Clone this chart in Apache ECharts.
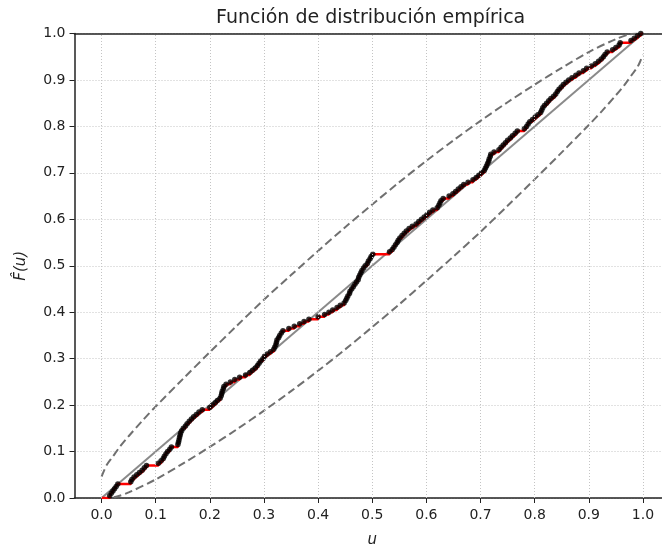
<!DOCTYPE html>
<html>
<head>
<meta charset="utf-8">
<script src="https://cdn.jsdelivr.net/npm/echarts@6/dist/echarts.min.js"></script>
<style>
  html, body { margin: 0; padding: 0; background: #fff; }
  #chart { width: 662px; height: 550px; }
</style>
</head>
<body>
<div id="chart"></div>
<script>
// sorted sample (u values where the ecdf jumps)
var sampleU = [
  0.015, 0.018, 0.021, 0.024, 0.027, 0.030, 0.054, 0.056, 0.060, 0.065,
  0.070, 0.075, 0.079, 0.083, 0.105, 0.110, 0.114, 0.116, 0.119, 0.122,
  0.126, 0.129, 0.141, 0.142, 0.143, 0.144, 0.145, 0.146, 0.148, 0.151,
  0.155, 0.158, 0.162, 0.166, 0.170, 0.175, 0.180, 0.186, 0.200, 0.205,
  0.210, 0.214, 0.219, 0.221, 0.222, 0.223, 0.225, 0.226, 0.230, 0.238,
  0.246, 0.255, 0.266, 0.274, 0.279, 0.284, 0.288, 0.291, 0.294, 0.298,
  0.301, 0.306, 0.312, 0.318, 0.320, 0.322, 0.323, 0.324, 0.327, 0.329,
  0.332, 0.335, 0.346, 0.356, 0.366, 0.374, 0.383, 0.400, 0.412, 0.420,
  0.427, 0.435, 0.441, 0.448, 0.451, 0.453, 0.455, 0.458, 0.459, 0.462,
  0.465, 0.468, 0.471, 0.474, 0.475, 0.477, 0.479, 0.481, 0.484, 0.487,
  0.491, 0.493, 0.496, 0.498, 0.501, 0.532, 0.537, 0.540, 0.543, 0.546,
  0.548, 0.551, 0.555, 0.559, 0.563, 0.568, 0.574, 0.581, 0.586, 0.591,
  0.596, 0.601, 0.606, 0.612, 0.620, 0.623, 0.625, 0.627, 0.631, 0.642,
  0.649, 0.654, 0.659, 0.664, 0.669, 0.677, 0.686, 0.692, 0.697, 0.702,
  0.707, 0.709, 0.711, 0.713, 0.715, 0.716, 0.718, 0.719, 0.725, 0.734,
  0.738, 0.742, 0.746, 0.750, 0.755, 0.759, 0.764, 0.768, 0.781, 0.785,
  0.788, 0.791, 0.796, 0.801, 0.806, 0.811, 0.813, 0.815, 0.818, 0.822,
  0.826, 0.830, 0.835, 0.839, 0.842, 0.845, 0.849, 0.853, 0.858, 0.863,
  0.869, 0.876, 0.882, 0.890, 0.896, 0.905, 0.912, 0.918, 0.923, 0.927,
  0.930, 0.934, 0.944, 0.950, 0.956, 0.958, 0.978, 0.984, 0.990, 0.996
];

// dashed band curves [u, F]
var upperBand = [
  [0.000, 0.046], [0.005, 0.060], [0.010, 0.072], [0.020, 0.088], [0.035, 0.112],
  [0.050, 0.133], [0.075, 0.166], [0.100, 0.197], [0.150, 0.256], [0.200, 0.314],
  [0.250, 0.371], [0.300, 0.427], [0.350, 0.480], [0.400, 0.532], [0.450, 0.583],
  [0.500, 0.632], [0.550, 0.680], [0.600, 0.726], [0.650, 0.770], [0.700, 0.812],
  [0.750, 0.852], [0.800, 0.890], [0.850, 0.926], [0.900, 0.960], [0.950, 0.988],
  [0.975, 0.998], [1.000, 1.000]
];
var lowerBand = [
  [0.000, 0.000], [0.025, 0.002], [0.050, 0.012], [0.100, 0.040], [0.150, 0.074],
  [0.200, 0.110], [0.250, 0.148], [0.300, 0.188], [0.350, 0.230], [0.400, 0.274],
  [0.450, 0.320], [0.500, 0.368], [0.550, 0.417], [0.600, 0.468], [0.650, 0.520],
  [0.700, 0.573], [0.750, 0.629], [0.800, 0.686], [0.850, 0.744], [0.900, 0.803],
  [0.925, 0.834], [0.950, 0.867], [0.965, 0.888], [0.980, 0.912], [0.990, 0.928],
  [0.995, 0.940], [1.000, 0.954]
];

var diagonal = [[0, 0], [1, 1]];
var xTicks = [0, 0.1, 0.2, 0.3, 0.4, 0.5, 0.6, 0.7, 0.8, 0.9, 1.0];

var n = sampleU.length;
var ecdfPoints = sampleU.map(function (u, i) { return [u, (i + 1) / n]; });
var stepData = [[0, 0]].concat(ecdfPoints).concat([[1, 1]]);

var font = 'DejaVu Sans';
var axisColor = '#222';
var gridColor = '#c4c4c4';
var bandStyle = { color: '#707070', width: 2, type: [8, 4] };

var chart = echarts.init(document.getElementById('chart'));
chart.setOption({
  animation: false,
  backgroundColor: '#fff',
  title: {
    text: 'Función de distribución empírica',
    left: 216,
    top: 9,
    padding: 0,
    textStyle: { fontFamily: font, fontSize: 19, fontWeight: 'normal', color: '#222' }
  },
  grid: { left: 74.5, top: 33.5, right: -8, bottom: 52, outerBoundsMode: 'none' },
  xAxis: [{
    type: 'value',
    min: -0.05,
    max: 1.05,
    name: 'u',
    nameLocation: 'middle',
    nameGap: 35,
    nameTextStyle: { fontFamily: font, fontSize: 15, fontStyle: 'italic', color: '#222' },
    axisLine: { onZero: false, lineStyle: { color: axisColor, width: 1.5 } },
    axisTick: { show: true, length: 5, customValues: xTicks, lineStyle: { color: axisColor } },
    axisLabel: {
      customValues: xTicks,
      margin: 10,
      fontFamily: font, fontSize: 14, color: '#222',
      formatter: function (v) { return v.toFixed(1); }
    },
    splitLine: { show: false }
  }, {
    type: 'value',
    position: 'top',
    min: -0.05,
    max: 1.05,
    axisLine: { show: true, onZero: false, lineStyle: { color: axisColor, width: 1.5 } },
    axisTick: { show: false },
    axisLabel: { show: false },
    splitLine: { show: false }
  }],
  yAxis: {
    type: 'value',
    min: 0,
    max: 1,
    interval: 0.1,
    name: 'F\u0302(u)',
    nameLocation: 'middle',
    nameGap: 46,
    nameRotate: 90,
    nameTextStyle: { fontFamily: font, fontSize: 15, fontStyle: 'italic', color: '#222' },
    axisLine: { show: true, onZero: false, lineStyle: { color: axisColor, width: 1.5 } },
    axisTick: { show: true, length: 5, lineStyle: { color: axisColor } },
    axisLabel: {
      margin: 9,
      fontFamily: font, fontSize: 14, color: '#222',
      formatter: function (v) { return v.toFixed(1); }
    },
    splitLine: { show: true, lineStyle: { color: gridColor, type: [1, 2], width: 1 } }
  },
  series: [{
    name: 'diagonal',
    type: 'line',
    data: diagonal,
    showSymbol: false,
    lineStyle: { color: '#8a8a8a', width: 2 },
    z: 1,
    markLine: {
      silent: true,
      symbol: ['none', 'none'],
      label: { show: false },
      lineStyle: { color: gridColor, type: [1, 2], width: 1 },
      data: xTicks.map(function (v) { return { xAxis: v }; })
    }
  }, {
    name: 'upper',
    type: 'line',
    data: upperBand,
    showSymbol: false,
    smooth: 0.3,
    lineStyle: bandStyle,
    z: 2
  }, {
    name: 'lower',
    type: 'line',
    data: lowerBand,
    showSymbol: false,
    smooth: 0.3,
    lineStyle: bandStyle,
    z: 2
  }, {
    name: 'ecdf',
    type: 'line',
    step: 'end',
    data: stepData,
    showSymbol: false,
    lineStyle: { color: '#ff0000', width: 2.5 },
    z: 3
  }, {
    name: 'muestras',
    type: 'scatter',
    data: ecdfPoints,
    symbol: 'circle',
    symbolSize: 5.5,
    itemStyle: { color: '#000' },
    z: 4
  }]
});
</script>
</body>
</html>
